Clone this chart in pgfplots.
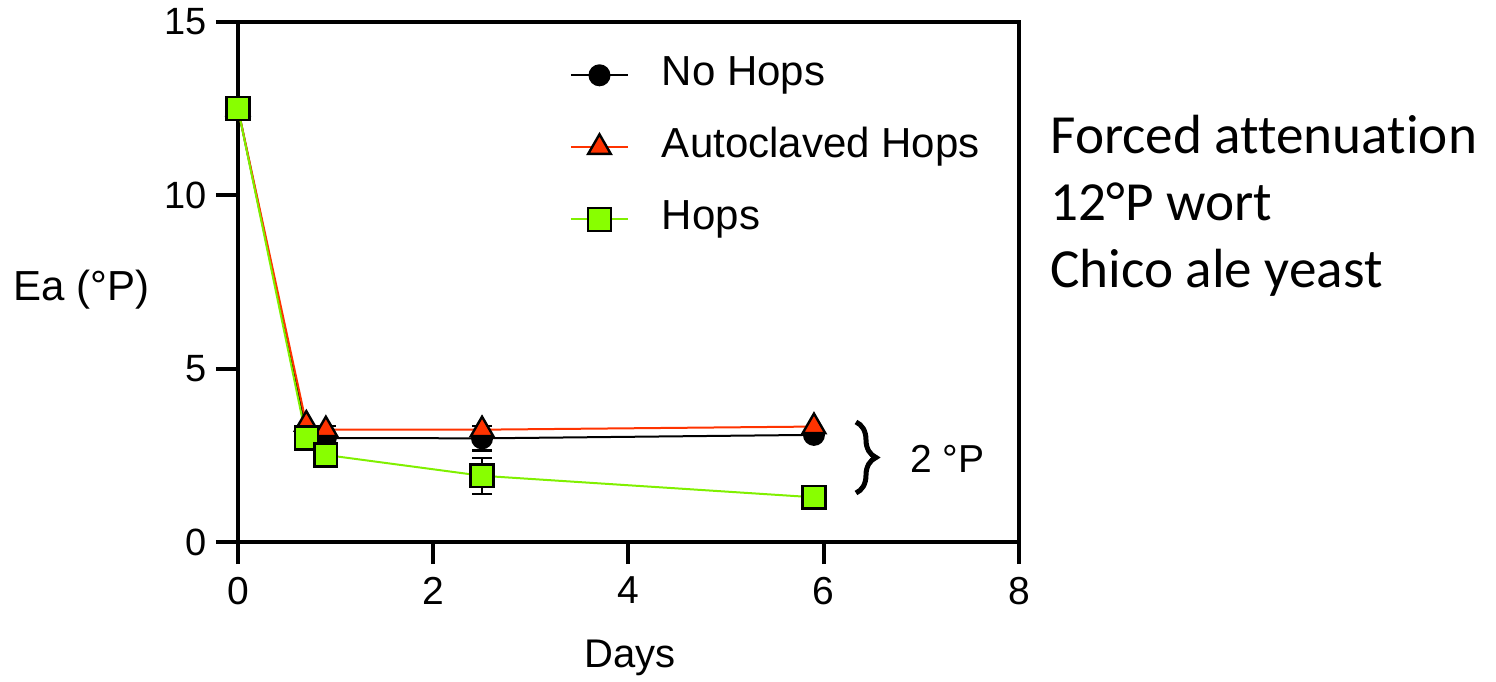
\documentclass[border=0pt]{standalone}
\usepackage{fontspec}
\setmainfont{Liberation Sans}
\newfontfamily\carlito[Ligatures=NoCommon]{Carlito}
\usepackage{pgfplots}
\pgfplotsset{compat=1.18}
\usetikzlibrary{decorations.pathreplacing}
\definecolor{hred}{HTML}{FF3300}
\definecolor{hgreen}{HTML}{88FF00}
\definecolor{lgreen}{HTML}{80F000}
\begin{document}
\begin{tikzpicture}
\begin{axis}[
  at={(119pt,69.5pt)}, anchor=south west,
  scale only axis, width=390.5pt, height=260pt,
  xmin=0, xmax=8, ymin=0, ymax=15,
  xtick={0,2,4,6,8}, ytick={0,5,10,15},
  axis line style={line width=2pt},
  tick style={line width=2pt, black},
  tick align=outside, major tick length=11pt,
  xtick pos=bottom, ytick pos=left,
  /pgf/number format/assume math mode=true,
  xticklabel style={font=\fontsize{19.5}{20}\selectfont, yshift=-3pt},
  yticklabel style={font=\fontsize{19}{20}\selectfont, xshift=-1pt},
  clip=false,
  legend style={draw=none, fill=none, inner sep=0pt, outer sep=0pt,
    at={(rel axis cs:0.4251,0.935)}, anchor=north west,
    font=\fontsize{21}{22}\selectfont, row sep=16.5pt,
    nodes={inner sep=0pt, text height=15pt, text depth=4.5pt},
    /tikz/every odd column/.append style={column sep=16.5pt}},
  legend cell align=left,
  legend image code/.code={\draw[mark repeat=2,mark phase=2] plot coordinates {(0pt,0pt)(14.25pt,0pt)(28.5pt,0pt)};},
  error bars/error bar style={line width=1.2pt, black},
  error bars/error mark options={rotate=90, mark size=5pt, line width=1.2pt, black},
]
\addplot[black, line width=1pt, mark=*, mark size=5pt,
  mark options={fill=black, draw=black, line width=1pt},
  error bars/.cd, y dir=both, y explicit]
  coordinates {(0,12.5) (0.7,3.2) (0.9,3.0) (2.5,2.99) +- (0,0.35) (5.9,3.09)};
\addlegendentry{No Hops}
\addplot[hred, line width=1pt, mark=triangle*, mark size=6.5pt,
  mark options={fill=hred, draw=black, line width=1.2pt},
  error bars/.cd, y dir=both, y explicit]
  coordinates {(0,12.5) (0.7,3.4) (0.9,3.24) +- (0,0.1) (2.5,3.24) +- (0,0.1) (5.9,3.33)};
\addlegendentry{Autoclaved Hops}
\addplot[lgreen, line width=1pt, mark=square*, mark size=5.7pt,
  mark options={fill=hgreen, draw=black, line width=1.2pt},
  error bars/.cd, y dir=both, y explicit]
  coordinates {(0,12.5) (0.7,3.0) (0.9,2.51) (2.5,1.91) +- (0,0.52) (5.9,1.29)};
\addlegendentry{Hops}
\end{axis}
\node[anchor=base west, inner sep=0pt] at (6.7pt,190pt) {\fontsize{21}{22}\selectfont Ea (°P)};
\node[anchor=base, inner sep=0pt] at (315pt,6.5pt) {\fontsize{20}{22}\selectfont Days};
\node[anchor=base west, inner sep=0pt] at (525pt,263.5pt) {\carlito\fontsize{27.6}{29}\selectfont Forced attenuation};
\node[anchor=base west, inner sep=0pt] at (525pt,230pt) {\carlito\fontsize{27.6}{29}\selectfont 12°P wort};
\node[anchor=base west, inner sep=0pt] at (525pt,196.5pt) {\carlito\fontsize{27.6}{29}\selectfont Chico ale yeast};
\node[anchor=base west, inner sep=0pt] at (455pt,104pt) {\fontsize{19.5}{21}\selectfont 2 °P};
\draw[decorate, decoration={brace, amplitude=10pt}, line width=2.5pt] (428pt,129.5pt) -- (428pt,94pt);
\pgfresetboundingbox
\path (0,0) rectangle (748pt,340.5pt);
\end{tikzpicture}
\end{document}
